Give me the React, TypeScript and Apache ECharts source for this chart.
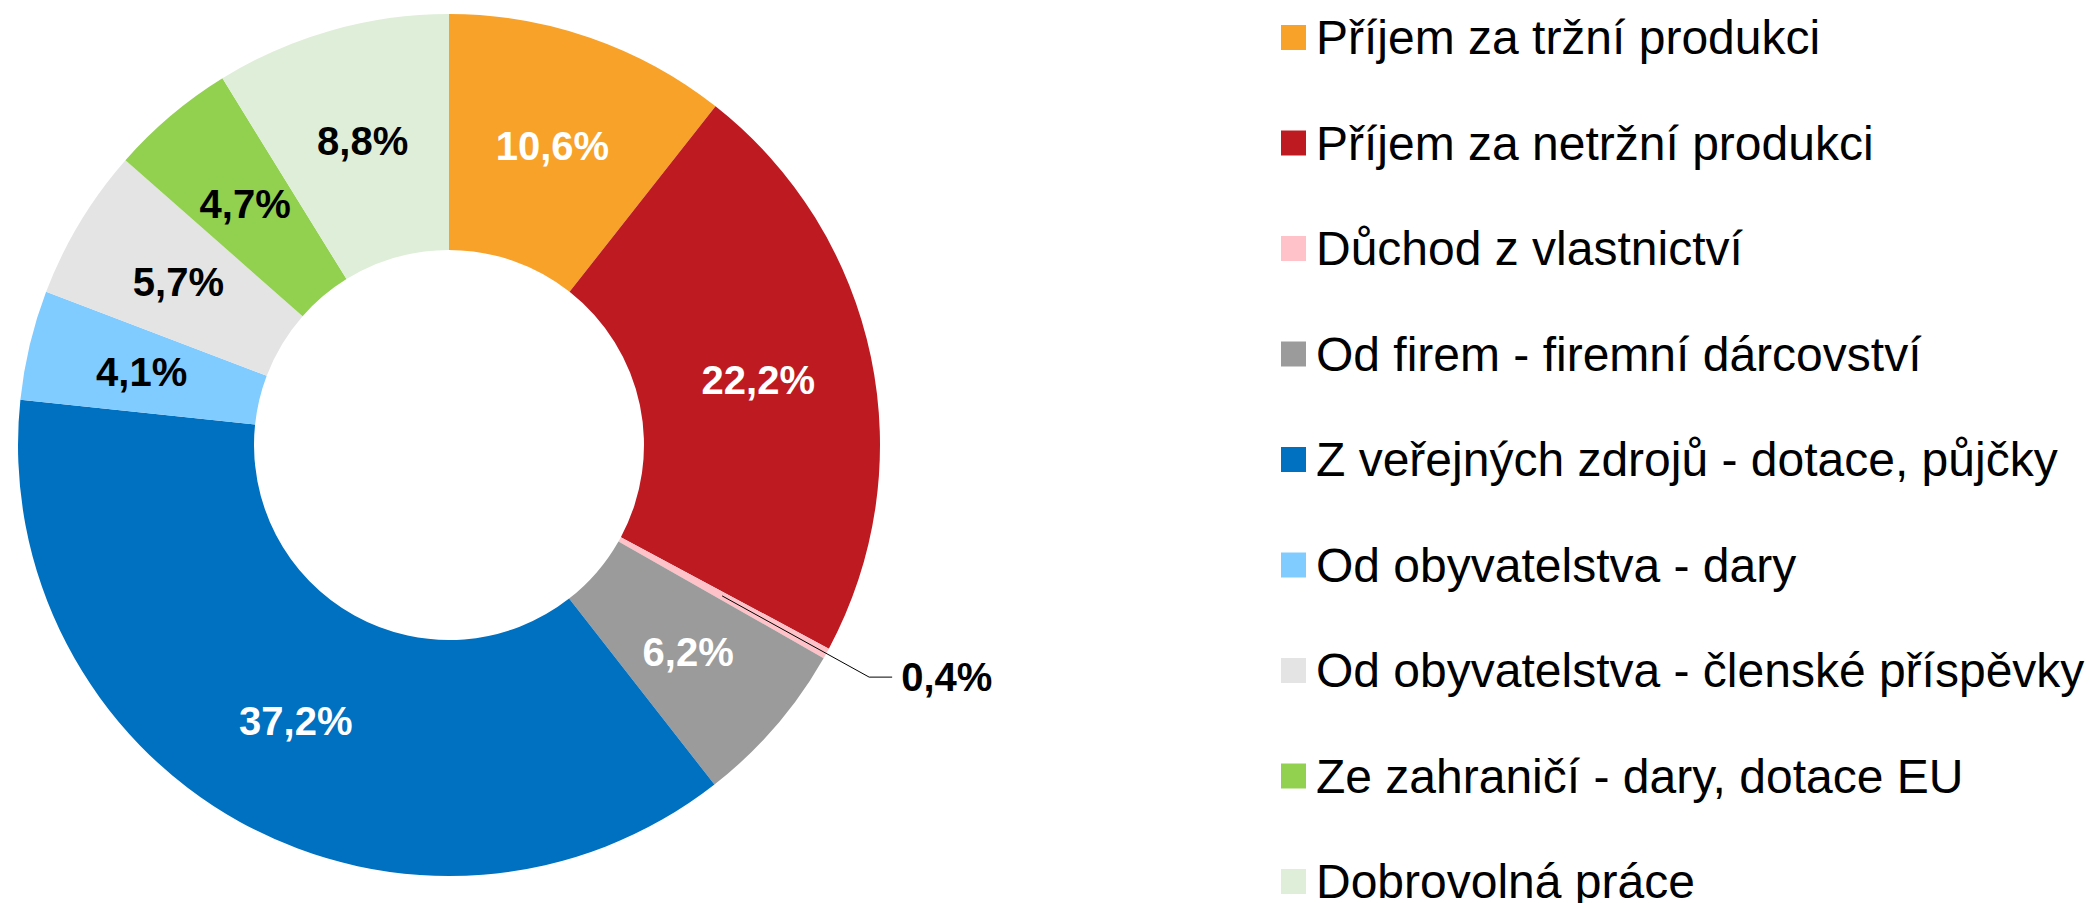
import React, { useEffect, useRef } from "react";
import * as echarts from "echarts";

const categories = [
  "Příjem za tržní produkci",
  "Příjem za netržní produkci",
  "Důchod z vlastnictví",
  "Od firem - firemní dárcovství",
  "Z veřejných zdrojů - dotace, půjčky",
  "Od obyvatelstva - dary",
  "Od obyvatelstva - členské příspěvky",
  "Ze zahraničí - dary, dotace EU",
  "Dobrovolná práce",
];

const shares = [10.6, 22.2, 0.4, 6.2, 37.2, 4.1, 5.7, 4.7, 8.8];

const sliceColors = [
  "#F8A229",
  "#BE1A22",
  "#FFC2C9",
  "#9B9B9B",
  "#0070C0",
  "#80CBFF",
  "#E3E4E3",
  "#92D050",
  "#DFEED8",
];

const labelColors = ["#fff", "#fff", "#000", "#fff", "#fff", "#000", "#000", "#000", "#000"];

// slices whose label sits outside with a leader line
const outsideLabel = [false, false, true, false, false, false, false, false, false];

const FONT = "'Liberation Sans', Arial, Helvetica, sans-serif";

const fmt = (v: number) => v.toFixed(1).replace(".", ",") + "%";

export default function App() {
  const ref = useRef<HTMLDivElement>(null);

  useEffect(() => {
    if (!ref.current) return;
    const chart = echarts.init(ref.current, undefined, { renderer: "svg" });

    const mainData = categories.map((name, i) => ({
      name,
      value: shares[i],
      itemStyle: { color: sliceColors[i] },
      label: {
        show: !outsideLabel[i],
        color: labelColors[i],
      },
    }));

    const helperData = categories.map((name, i) => ({
      name,
      value: shares[i],
      itemStyle: { color: "rgba(0,0,0,0)" },
      label: { show: outsideLabel[i] },
      labelLine: { show: outsideLabel[i] },
    }));

    chart.setOption({
      animation: false,
      backgroundColor: "#ffffff",
      legend: {
        orient: "vertical",
        left: 1281,
        top: 12.5,
        height: 900,
        padding: 0,
        itemWidth: 25,
        itemHeight: 25,
        itemGap: 55.5,
        icon: "rect",
        selectedMode: false,
        data: categories,
        textStyle: {
          fontFamily: FONT,
          fontSize: 48,
          lineHeight: 50,
          color: "#000",
          padding: [0, 0, 0, 5],
        },
      },
      series: [
        {
          type: "pie",
          name: "main",
          center: [449, 445],
          radius: [195, 431],
          startAngle: 90,
          clockwise: true,
          avoidLabelOverlap: false,
          silent: true,
          z: 2,
          label: {
            position: "inside",
            fontFamily: FONT,
            fontSize: 40,
            fontWeight: "bold",
            formatter: (p: any) => fmt(p.value),
          },
          labelLine: { show: false },
          itemStyle: { borderWidth: 0 },
          data: mainData,
        },
        {
          type: "pie",
          name: "leader",
          center: [449, 445],
          radius: [0, 312],
          startAngle: 90,
          clockwise: true,
          avoidLabelOverlap: false,
          silent: true,
          z: 3,
          label: {
            position: "outside",
            fontFamily: FONT,
            fontSize: 40,
            fontWeight: "bold",
            color: "#000",
            distanceToLabelLine: 9,
            formatter: (p: any) => fmt(p.value),
          },
          labelLine: {
            length: 168,
            length2: 23,
            smooth: false,
            lineStyle: { color: "#000", width: 1 },
          },
          itemStyle: { borderWidth: 0 },
          data: helperData,
        },
      ],
    });

    return () => chart.dispose();
  }, []);

  return (
    <div
      ref={ref}
      style={{ position: "fixed", left: 0, top: 0, width: 2090, height: 903, background: "#fff" }}
    />
  );
}
